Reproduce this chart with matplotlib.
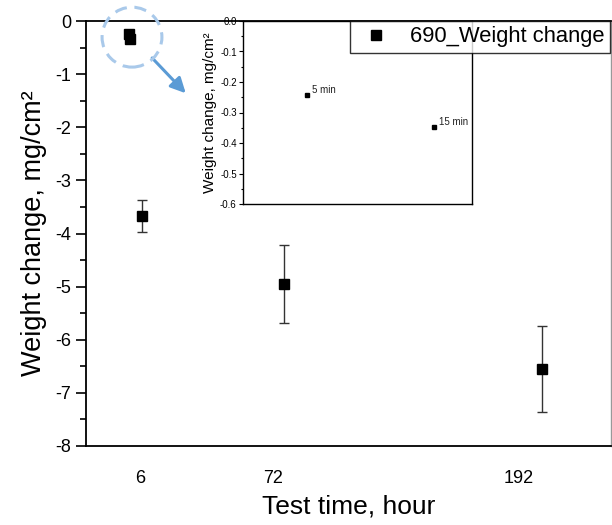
import matplotlib
matplotlib.use("Agg")
import matplotlib.pyplot as plt
from matplotlib.patches import Ellipse
from matplotlib.lines import Line2D
from matplotlib.ticker import MultipleLocator, FormatStrFormatter

plt.rcParams['font.family'] = ['Liberation Sans', 'DejaVu Sans']
plt.rcParams['axes.unicode_minus'] = False

# main data
hours = [6, 72, 192]
weight = [-3.67, -4.95, -6.55]
err = [0.31, 0.73, 0.81]
tick_pos = [5, 67, 181]
tick_labels = ['6', '72', '192']

# early points (hours) and inset data (minutes)
early_hours = [5 / 60, 15 / 60]
minutes = [5, 15]
early_weight = [-0.242, -0.348]
early_labels = ['5 min', '15 min']

series_name = '690_Weight change'

fig = plt.figure(figsize=(6.12, 5.25), dpi=100)
ax = fig.add_axes([86 / 612, 1 - 446 / 525, 525 / 612, 425 / 525])

ax.errorbar(hours, weight, yerr=err, fmt='s', color='black', ms=7,
            ecolor='#333333', elinewidth=1.0, capsize=3.5, capthick=1.0, zorder=3)
ax.plot(early_hours, early_weight, 's', color='black', ms=7, zorder=3)

ax.set_xlim(-20, 224)
ax.set_ylim(-8, 0)
ax.set_xticks(tick_pos)
ax.set_xticklabels(tick_labels)
ax.tick_params(axis='x', length=0, labelsize=13, pad=17)
ax.yaxis.set_major_locator(MultipleLocator(1))
ax.yaxis.set_minor_locator(MultipleLocator(0.5))
ax.tick_params(axis='y', which='major', direction='out', length=7, width=1.2, labelsize=13)
ax.tick_params(axis='y', which='minor', direction='out', length=4, width=1.2)
for s in ax.spines.values():
    s.set_linewidth(1.3)
ax.spines['right'].set_color('#999999')
ax.spines['right'].set_linewidth(1.0)

ax.set_xlabel('Test time, hour', fontsize=19, labelpad=6)
ax.set_ylabel('Weight change, mg/cm²', fontsize=19.5, labelpad=6)

# dashed circle and arrow
circ = Ellipse((0.0876, 0.962), 0.114, 0.141, transform=ax.transAxes,
               fill=False, ls=(0, (4, 2.5)), lw=2.2, ec='#a9c9ea', clip_on=False, zorder=4)
ax.add_patch(circ)
ax.annotate('', xy=(0.19, 0.83), xytext=(0.126, 0.913), xycoords='axes fraction',
            textcoords='axes fraction',
            arrowprops=dict(arrowstyle='-|>,head_length=0.9,head_width=0.45',
                            color='#5b9bd5', lw=2.2, shrinkA=0, shrinkB=0))

# inset
ins = fig.add_axes([243 / 612, 1 - 204 / 525, 229 / 612, 183 / 525])
ins.plot(minutes, early_weight, 's', color='black', ms=3.5)
for m, w, t in zip(minutes, early_weight, early_labels):
    ins.annotate(t, (m, w), xytext=(4, 0), textcoords='offset points',
                 fontsize=7, va='bottom', ha='left', color='#222222')
ins.set_xlim(0, 18)
ins.set_ylim(-0.6, 0)
ins.set_xticks([])
ins.yaxis.set_major_locator(MultipleLocator(0.1))
ins.yaxis.set_minor_locator(MultipleLocator(0.05))
ins.tick_params(axis='y', which='major', direction='out', length=3, width=0.8, labelsize=7, pad=1.5)
ins.tick_params(axis='y', which='minor', direction='out', length=1.5, width=0.8)
ins.yaxis.set_major_formatter(FormatStrFormatter('%.1f'))
for s in ins.spines.values():
    s.set_linewidth(1.0)
ins.set_ylabel('Weight change, mg/cm²', fontsize=11, labelpad=2)

# legend (figure level, above inset)
handle = Line2D([], [], marker='s', ls='none', color='black', ms=7)
leg = fig.legend([handle], [series_name], loc='upper left',
                 bbox_to_anchor=(350 / 612, 1 - 21 / 525), fontsize=15.8, frameon=True,
                 fancybox=False, edgecolor='black', borderaxespad=0,
                 handlelength=1.9, handletextpad=0.6, borderpad=0.25)
leg.get_frame().set_linewidth(1.0)
leg.set_zorder(10)

fig.savefig('out.png', dpi=100)
